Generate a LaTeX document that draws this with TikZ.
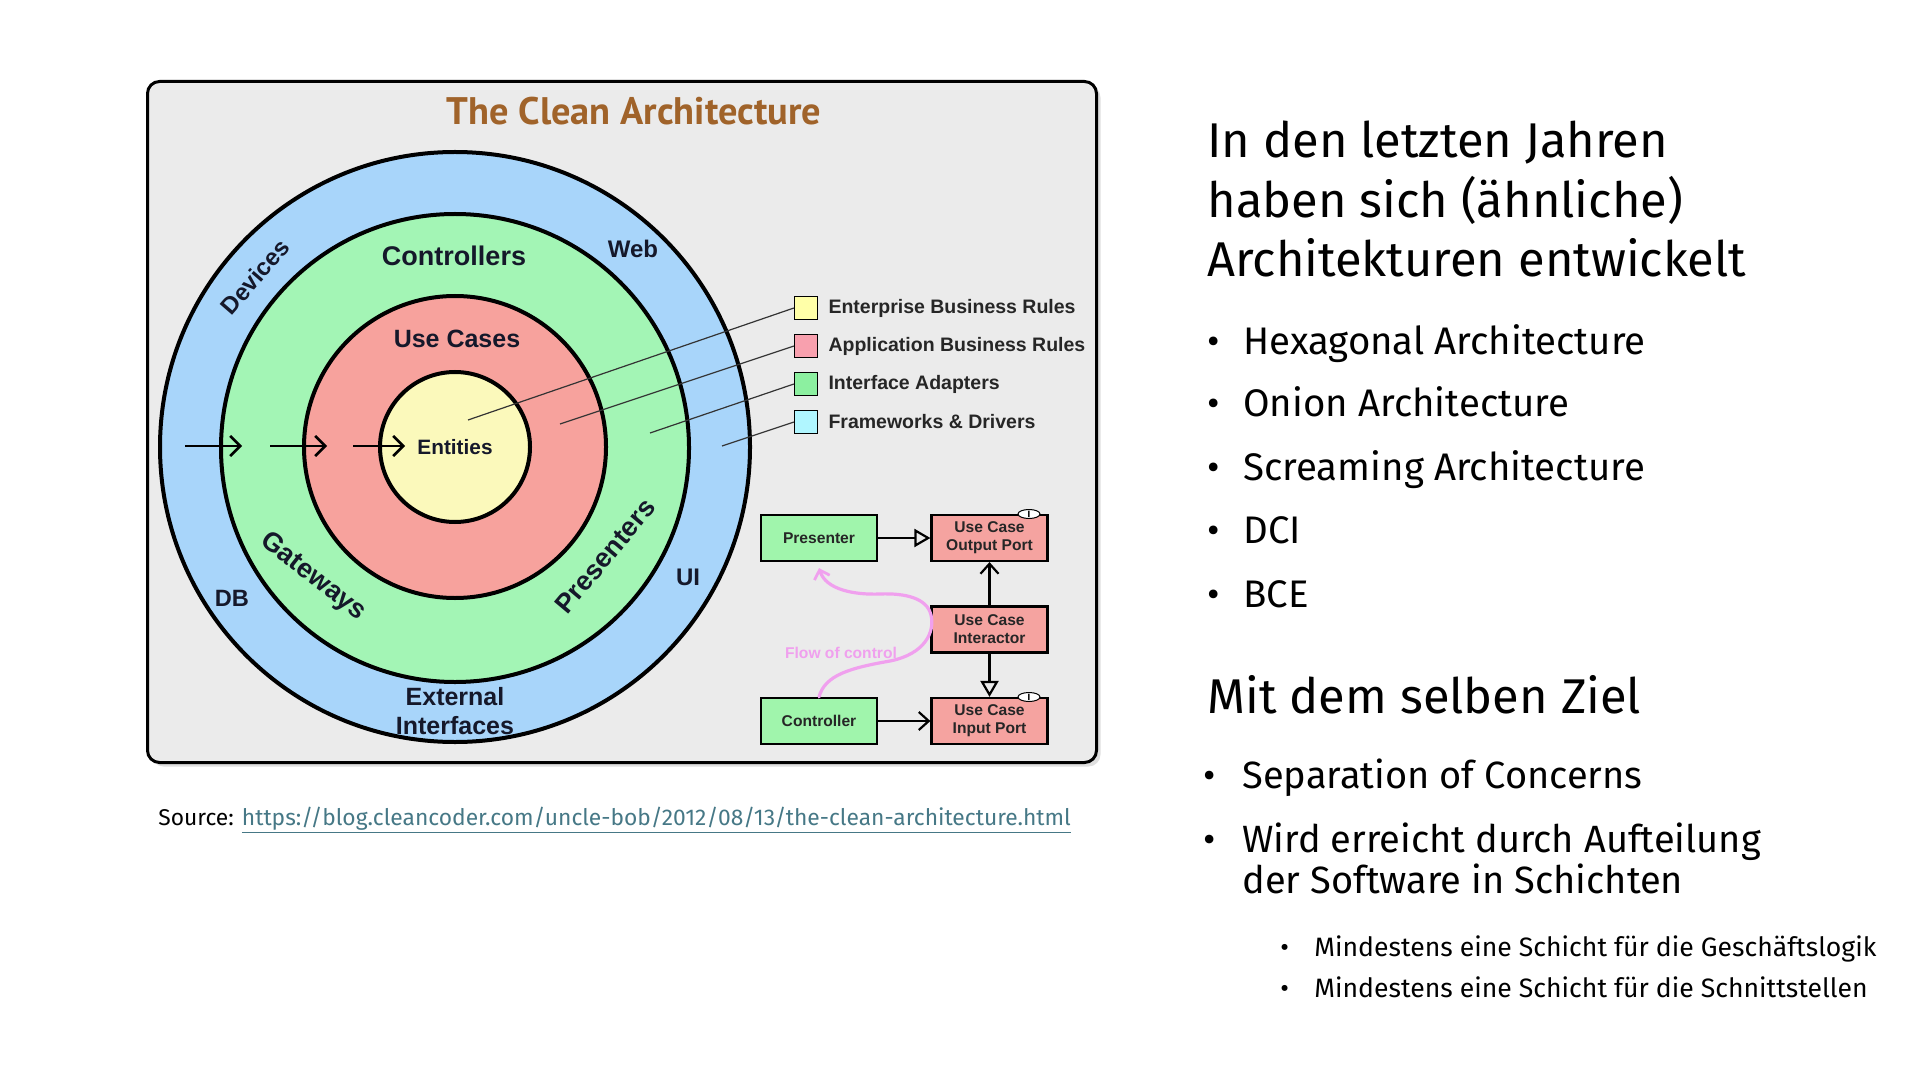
\documentclass[tikz,border=0pt]{standalone}
\usepackage{fontspec}
\setmainfont{Fira Sans}
\newfontfamily\diagfont{Liberation Sans}
\newfontfamily\headfont{PT Sans}
\usepackage{tikz}
\usetikzlibrary{arrows.meta, shadows, shapes.geometric, positioning}
\usepackage{xcolor}
\definecolor{panelgray}{HTML}{EBEBEB}
\definecolor{ringblue}{HTML}{A8D5FA}
\definecolor{ringgreen}{HTML}{A3F5B5}
\definecolor{ringred}{HTML}{F7A29D}
\definecolor{ringyellow}{HTML}{FBF9BB}
\definecolor{legyellow}{HTML}{FFFFA8}
\definecolor{legpink}{HTML}{F8A0AE}
\definecolor{leggreen}{HTML}{8CF0A0}
\definecolor{legcyan}{HTML}{B0F6FF}
\definecolor{boxgreen}{HTML}{A0F5AC}
\definecolor{boxred}{HTML}{F5A3A0}
\definecolor{flowpink}{HTML}{F0A0EE}
\definecolor{titlebrown}{HTML}{A0632A}
\definecolor{labelnavy}{HTML}{15182A}
\definecolor{linkteal}{HTML}{467886}
\newcommand{\fs}[1]{\fontsize{#1}{1.2\dimexpr #1pt\relax}\selectfont}

\begin{document}
\begin{tikzpicture}[x=0.5pt, y=0.5pt,
  ring/.style={circle, draw, line width=2pt, inner sep=0pt},
  ringlabel/.style={font=\diagfont\bfseries\fs{13.5}, text=labelnavy, inner sep=0pt},
  legbox/.style={rectangle, draw, line width=0.6pt, minimum size=11.5pt, inner sep=0pt},
  legtext/.style={font=\diagfont\bfseries\fs{9.75}, text=black!85, inner sep=0pt},
  leader/.style={line width=0.6pt, black!80},
  inarrow/.style={line width=1.3pt, -{Straight Barb[length=5pt, width=10pt, line width=1.3pt]}},
  flowbox/.style={rectangle, draw, line width=1.1pt, minimum width=58pt, minimum height=23pt,
    align=center, inner sep=1pt, font=\diagfont\bfseries\fontsize{7.8}{9}\selectfont, text=black!85},
  adapter/.style={flowbox, fill=boxgreen},
  port/.style={flowbox, fill=boxred},
  imark/.style={ellipse, draw, fill=white, line width=0.5pt, inner sep=0pt, minimum width=11pt,
    minimum height=4.5pt, font=\bfseries\fontsize{4.5}{4.5}\selectfont},
  opentri/.style={line width=1.1pt, -{Triangle[open, length=8pt, width=9pt, line width=1.1pt]}},
  openbarb/.style={line width=1.1pt, -{Straight Barb[length=5pt, width=9pt, line width=1.1pt]}},
  flowline/.style={flowpink, line width=1.6pt, line cap=round,
    -{Straight Barb[length=4pt, width=8pt, line width=1.4pt]}},
  slidetext/.style={anchor=base west, inner sep=0pt, text=black}
]
\useasboundingbox (0,0) rectangle (1920,-1080);

% picture panel
\draw[line width=1.5pt, fill=panelgray, rounded corners=6pt,
  drop shadow={shadow xshift=2pt, shadow yshift=-2pt, opacity=0.25}]
  (147.5,-81.5) rectangle (1096.5,-762.5);
\node[font=\headfont\bfseries\fs{19.2}, text=titlebrown, anchor=base, inner sep=0pt] (title) at (634,-125) {The Clean Architecture};

% rings
\node[ring, fill=ringblue, minimum size=295pt] (frameworks) at (455,-447) {};
\node[ring, fill=ringgreen, minimum size=234pt] (adapters) at (455,-448) {};
\node[ring, fill=ringred, minimum size=151pt] (usecases) at (455,-447) {};
\node[ring, fill=ringyellow, minimum size=75pt, font=\diagfont\bfseries\fs{10.4}, text=labelnavy] (entities) at (455,-447) {Entities};

% ring labels
\node[ringlabel] (lcontrollers) at (454,-256) {Controllers};
\node[ringlabel, font=\diagfont\bfseries\fs{12.5}] (lusecases) at (457,-339) {Use Cases};
\node[ringlabel, font=\diagfont\bfseries\fs{12}, rotate=49] (ldevices) at (255,-277) {Devices};
\node[ringlabel, font=\diagfont\bfseries\fs{12}] (lweb) at (633,-249) {Web};
\node[ringlabel, font=\diagfont\bfseries\fs{11.8}] (ldb) at (232,-598) {DB};
\node[ringlabel, font=\diagfont\bfseries\fs{12}] (lui) at (688,-577) {UI};
\node[ringlabel, rotate=-38] (lgateways) at (313,-577) {Gateways};
\node[ringlabel, rotate=50] (lpresenters) at (605,-556) {Presenters};
\node[ringlabel, font=\diagfont\bfseries\fontsize{12.5}{14.5}\selectfont, align=center] (lexternal) at (455,-711) {External\\Interfaces};

% dependency arrows
\coordinate (d1) at (185,-446); \coordinate (d1e) at (242,-446);
\coordinate (d2) at (270,-446); \coordinate (d2e) at (327,-446);
\coordinate (d3) at (353,-446); \coordinate (d3e) at (405,-446);
\draw[inarrow] (d1) -- (d1e);
\draw[inarrow] (d2) -- (d2e);
\draw[inarrow] (d3) -- (d3e);

% legend
\node[legbox, fill=legyellow] (kent) at (806,-308) {};
\node[legbox, fill=legpink] (kapp) at (806,-346) {};
\node[legbox, fill=leggreen] (kint) at (806,-384) {};
\node[legbox, fill=legcyan] (kfw) at (806,-422) {};
\node[legtext, right=5pt of kent] (tent) {Enterprise Business Rules};
\node[legtext, right=5pt of kapp] (tapp) {Application Business Rules};
\node[legtext, right=5pt of kint] (tint) {Interface Adapters};
\node[legtext, right=5pt of kfw] (tfw) {Frameworks \& Drivers};
\coordinate (pent) at (468,-420);
\coordinate (papp) at (560,-424);
\coordinate (pint) at (650,-433);
\coordinate (pfw) at (722,-446);
\draw[leader] (kent.west) -- (pent);
\draw[leader] (kapp.west) -- (papp);
\draw[leader] (kint.west) -- (pint);
\draw[leader] (kfw.west) -- (pfw);

% flow of control
\node[adapter] (presenter) at (819,-538) {Presenter};
\node[port] (outport) at (989.5,-538) {Use Case\\Output Port};
\node[port] (interactor) at (989.5,-629.5) {Use Case\\Interactor};
\node[adapter] (controller) at (819,-721) {Controller};
\node[port] (inport) at (989.5,-721) {Use Case\\Input Port};
\node[imark] (outmark) at (1029,-514) {I};
\node[imark] (inmark) at (1029,-697) {I};
\draw[opentri] (presenter) -- (outport);
\draw[openbarb] (interactor) -- (outport);
\draw[opentri] (interactor) -- (inport);
\draw[openbarb] (controller) -- (inport);
\draw[flowline] (controller.north) .. controls (825,-675) and (850,-668) .. (890,-661)
  .. controls (925,-654) and (935,-632) .. (931,-615)
  .. controls (927,-598) and (905,-593) .. (880,-594)
  .. controls (855,-595) and (826,-590) .. ([yshift=-3pt]presenter.south);
\node[font=\diagfont\bfseries\fs{7.8}, text=flowpink] (flowlabel) at (841,-653) {Flow of control};

% source
\node[slidetext, font=\fs{11.4}] (source) at (158,-825) {Source: \textcolor{linkteal}{\underline{https://blog.cleancoder.com/uncle-bob/2012/08/13/the-clean-architecture.html}}};

% slide text
\node[slidetext, font=\fs{24.4}] (head1) at (1207,-158) {In den letzten Jahren};
\node[slidetext, font=\fs{24.4}] (head2) at (1207,-218) {haben sich (ähnliche)};
\node[slidetext, font=\fs{24.4}] (head3) at (1207,-277) {Architekturen entwickelt};
\foreach \txt/\yy [count=\i] in {Hexagonal Architecture/355, Onion Architecture/416,
    Screaming Architecture/480, DCI/543, BCE/607} {
  \node[slidetext, font=\fs{19.2}] (dot\i) at (1207,-\yy) {•};
  \node[slidetext, font=\fs{19.2}] (item\i) at (1243,-\yy) {\txt};
}
\node[slidetext, font=\fs{24.4}] (head4) at (1207,-713) {Mit dem selben Ziel};
\node[slidetext, font=\fs{19}] (dotgoal1) at (1203,-788) {•};
\node[slidetext, font=\fs{19}] (goal1) at (1242,-788) {Separation of Concerns};
\node[slidetext, font=\fs{19}] (dotgoal2) at (1203,-852) {•};
\node[slidetext, font=\fs{19}] (goal2) at (1242,-852) {Wird erreicht durch Aufteilung};
\node[slidetext, font=\fs{19}] (goal2b) at (1242,-893) {der Software in Schichten};
\node[slidetext, font=\fs{13.3}] (dotsub1) at (1280,-956) {•};
\node[slidetext, font=\fs{13.3}] (sub1) at (1314,-956) {Mindestens eine Schicht für die Geschäftslogik};
\node[slidetext, font=\fs{13.3}] (dotsub2) at (1280,-997) {•};
\node[slidetext, font=\fs{13.3}] (sub2) at (1314,-997) {Mindestens eine Schicht für die Schnittstellen};
\end{tikzpicture}
\end{document}
